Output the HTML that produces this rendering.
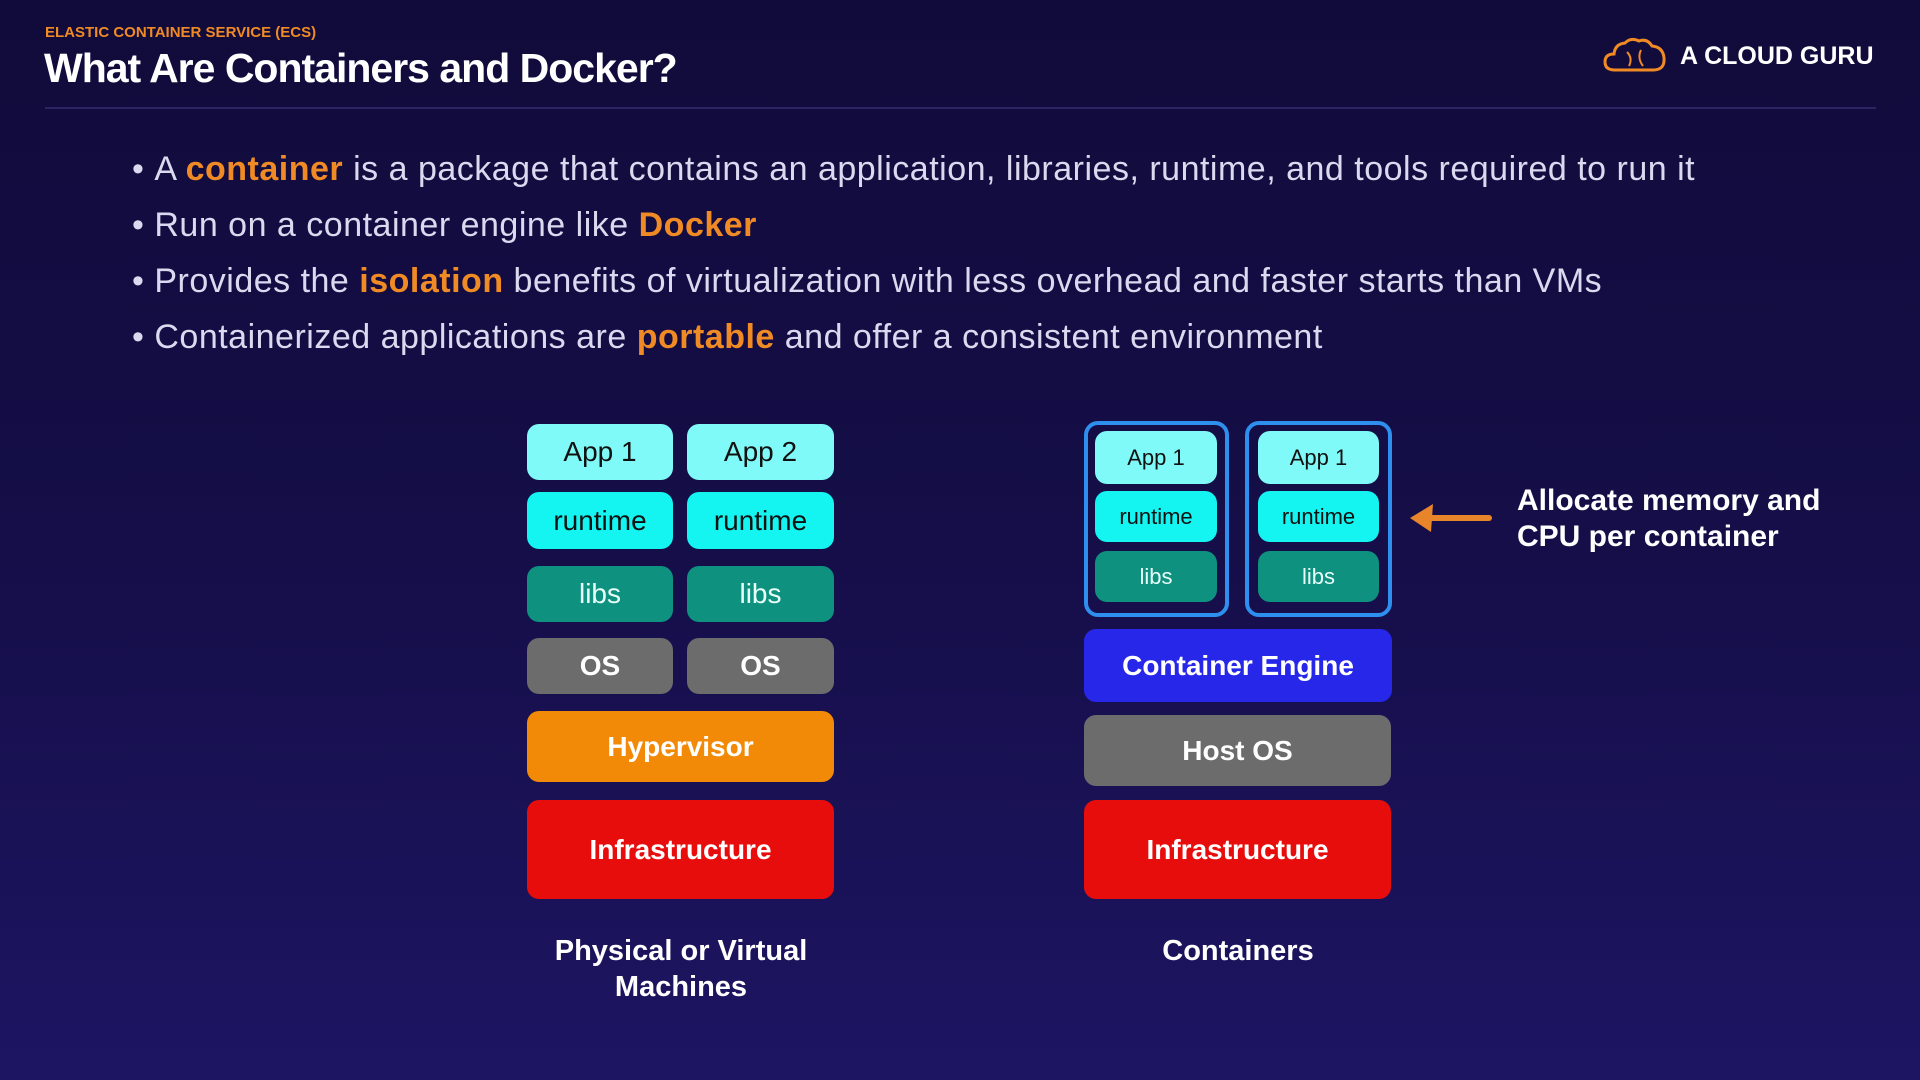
<!DOCTYPE html>
<html><head><meta charset="utf-8"><style>
*{margin:0;padding:0;box-sizing:border-box}
body{width:1920px;height:1080px;overflow:hidden;background:linear-gradient(180deg,#110b3b 0%,#150e48 50%,#1d1562 100%);font-family:"Liberation Sans",sans-serif;position:relative;color:#fff}
.a{position:absolute}
.sub{left:45px;top:24px;font-size:15px;font-weight:bold;color:#f08a24}
.title{left:44px;top:45px;font-size:41px;font-weight:bold;letter-spacing:-1px}
.rule{left:45px;top:107px;width:1831px;height:2px;background:#2a2460}
.logo{left:1680px;top:42px;font-size:25px;font-weight:bold}
.bul{left:132px;font-size:34px;letter-spacing:0.5px;color:#d9d9ef;white-space:nowrap}
.bul b{color:#f08a24}
.box{position:absolute;border-radius:12px;display:flex;align-items:center;justify-content:center;font-size:28px}
.app{background:#80faf8;color:#111}
.rt{background:#14f4f0;color:#111}
.lib{background:#0f9180;color:#e8fffa}
.os{background:#6c6c6c;color:#fff;font-weight:bold}
.hy{background:#f28a07;font-weight:bold}
.inf{background:#e80d0d;font-weight:bold}
.ce{background:#2727ea;font-weight:bold}
.cont{position:absolute;border:4px solid #2f8fef;border-radius:14px}
.s{font-size:22px}
.lbl{font-size:29px;font-weight:bold;text-align:center;line-height:36px}
</style></head><body>
<div class="a sub">ELASTIC CONTAINER SERVICE (ECS)</div>
<div class="a title">What Are Containers and Docker?</div>
<div class="a rule"></div>
<svg class="a" style="left:1603px;top:36px" width="64" height="38" viewBox="0 0 64 38"><path d="M12 34 Q2 34 2 26 Q2 18 11 18 Q12 8 22 7 Q28 1 36 5 Q44 2 49 10 Q60 11 61 22 Q62 34 50 34 Z" fill="none" stroke="#f08a24" stroke-width="3"/><path d="M24 16 Q30 22 26 30 M38 14 Q34 22 40 30" fill="none" stroke="#f08a24" stroke-width="2"/></svg>
<div class="a logo">A CLOUD GURU</div>
<div class="a bul" style="top:150px">•&nbsp;A <b>container</b> is a package that contains an application, libraries, runtime, and tools required to run it</div>
<div class="a bul" style="top:206px">•&nbsp;Run on a container engine like <b>Docker</b></div>
<div class="a bul" style="top:262px">•&nbsp;Provides the <b>isolation</b> benefits of virtualization with less overhead and faster starts than VMs</div>
<div class="a bul" style="top:318px">•&nbsp;Containerized applications are <b>portable</b> and offer a consistent environment</div>

<div class="box app" style="left:527px;top:424px;width:146px;height:56px">App 1</div>
<div class="box app" style="left:687px;top:424px;width:147px;height:56px">App 2</div>
<div class="box rt" style="left:527px;top:492px;width:146px;height:57px">runtime</div>
<div class="box rt" style="left:687px;top:492px;width:147px;height:57px">runtime</div>
<div class="box lib" style="left:527px;top:566px;width:146px;height:56px">libs</div>
<div class="box lib" style="left:687px;top:566px;width:147px;height:56px">libs</div>
<div class="box os" style="left:527px;top:638px;width:146px;height:56px">OS</div>
<div class="box os" style="left:687px;top:638px;width:147px;height:56px">OS</div>
<div class="box hy" style="left:527px;top:711px;width:307px;height:71px">Hypervisor</div>
<div class="box inf" style="left:527px;top:800px;width:307px;height:99px">Infrastructure</div>
<div class="a lbl" style="left:500px;top:933px;width:362px">Physical or Virtual<br>Machines</div>

<div class="cont" style="left:1084px;top:421px;width:145px;height:196px"></div>
<div class="cont" style="left:1245px;top:421px;width:147px;height:196px"></div>
<div class="box app s" style="left:1095px;top:431px;width:122px;height:53px">App 1</div>
<div class="box rt s" style="left:1095px;top:491px;width:122px;height:51px">runtime</div>
<div class="box lib s" style="left:1095px;top:551px;width:122px;height:51px">libs</div>
<div class="box app s" style="left:1258px;top:431px;width:121px;height:53px">App 1</div>
<div class="box rt s" style="left:1258px;top:491px;width:121px;height:51px">runtime</div>
<div class="box lib s" style="left:1258px;top:551px;width:121px;height:51px">libs</div>
<div class="box ce" style="left:1084px;top:629px;width:308px;height:73px">Container Engine</div>
<div class="box os" style="left:1084px;top:715px;width:307px;height:71px">Host OS</div>
<div class="box inf" style="left:1084px;top:800px;width:307px;height:99px">Infrastructure</div>
<div class="a lbl" style="left:1084px;top:933px;width:308px">Containers</div>

<svg class="a" style="left:1405px;top:500px" width="90" height="40" viewBox="0 0 90 40"><path d="M84 18 L26 18" stroke="#e8852a" stroke-width="6" stroke-linecap="round"/><path d="M5 18 L28 4 L26 32 Z" fill="#e8852a"/></svg>
<div class="a" style="left:1517px;top:483px;font-size:30px;font-weight:bold;line-height:36px">Allocate memory and<br>CPU per container</div>
</body></html>
